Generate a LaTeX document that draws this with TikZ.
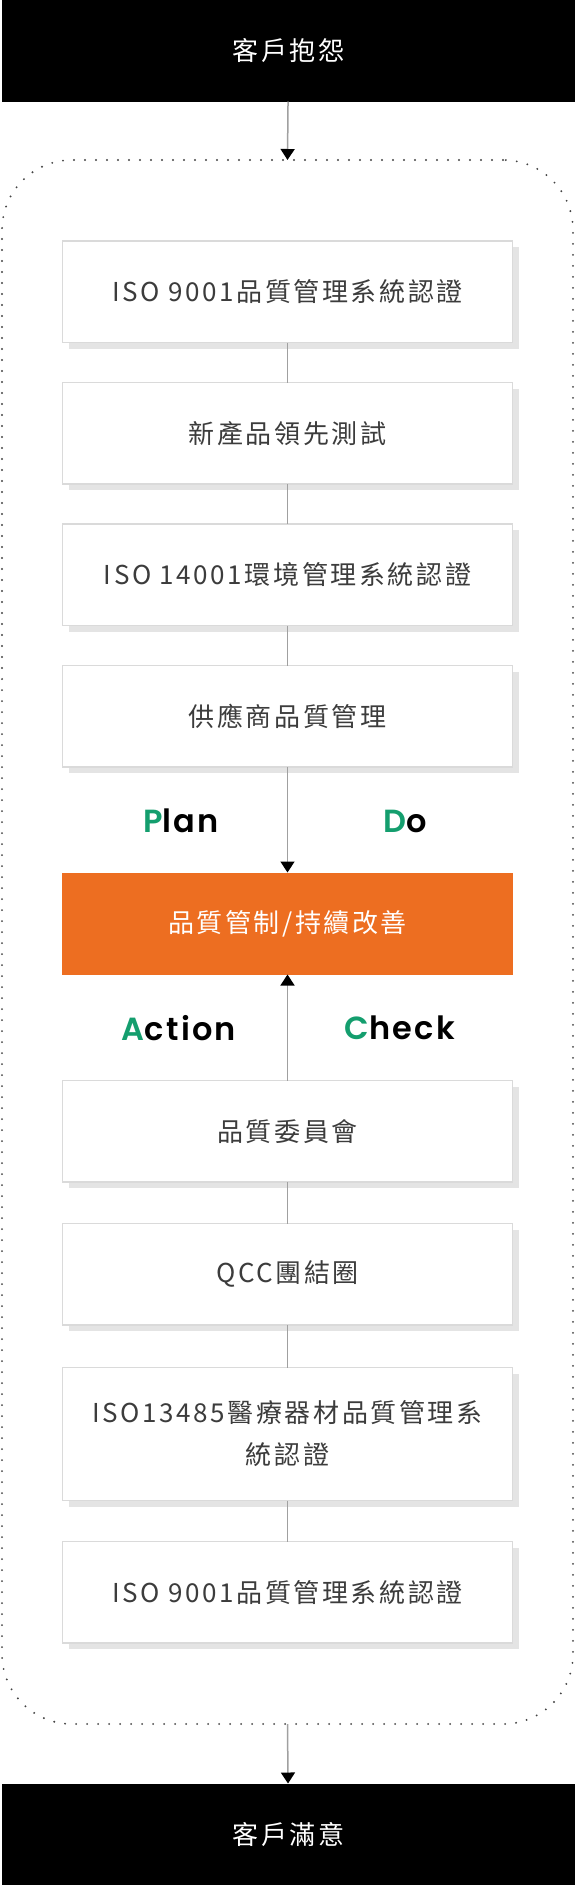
\documentclass[tikz,border=0pt]{standalone}
\usepackage{fontspec}
\setmainfont{Noto Sans CJK TC}[LetterSpace=10]
\newfontfamily\popfont{Poppins}[BoldFont={Poppins SemiBold}, LetterSpace=7]
\usetikzlibrary{arrows.meta,positioning,shadows}
\definecolor{qcorange}{RGB}{237,110,33}
\definecolor{qcgreen}{RGB}{20,158,110}
\definecolor{boxline}{RGB}{218,218,218}
\definecolor{boxshade}{RGB}{228,228,228}
\definecolor{boxtext}{RGB}{60,60,60}
\definecolor{linegray}{RGB}{160,160,160}
\definecolor{dotgray}{RGB}{68,68,68}
\tikzset{
  qcbox/.style={draw=boxline, line width=1.5pt, fill=white, minimum width=450pt, minimum height=101.5pt, inner sep=0pt, outer sep=0pt, align=center, text=boxtext, font=\fontsize{26}{42}\selectfont, drop shadow={shadow xshift=6pt, shadow yshift=-6pt, fill=boxshade, opacity=1}},
  qcend/.style={fill=black, text=white, minimum width=573pt, minimum height=101.5pt, inner sep=0pt, outer sep=0pt, font=\fontsize{26}{42}\selectfont},
  qcmain/.style={fill=qcorange, text=white, minimum width=451pt, minimum height=102pt, inner sep=0pt, outer sep=0pt, font=\fontsize{26}{42}\selectfont},
  qcframe/.style={draw=dotgray, line width=2.1pt, dash pattern=on 0pt off 11pt, line cap=round, rounded corners=70pt, minimum width=571pt, minimum height=1564pt, inner sep=0pt, outer sep=0pt},
  qcline/.style={draw=linegray, line width=1.5pt},
  qcarrow/.style={qcline, -{Triangle[length=11pt,width=14pt,color=black]}},
  pdca/.style={font=\popfont\bfseries\fontsize{32}{32}\selectfont, text=black}
}

\begin{document}
\begin{tikzpicture}[x=1pt, y=1pt, node distance=40pt]
  \useasboundingbox (0,0) rectangle (575,-1885);
  \node[qcend] (start) at (288.5,-50.75) {客戶抱怨};
  \node[qcframe] (frame) at (287.5,-942) {};
  \node[qcbox] (iso1) at (287.5,-291.75) {ISO 9001品質管理系統認證};
  \node[qcbox, below=of iso1] (newp) {新產品領先測試};
  \node[qcbox, below=of newp] (iso2) {ISO 14001環境管理系統認證};
  \node[qcbox, below=of iso2] (supp) {供應商品質管理};
  \node[qcmain, below=105.5pt of supp] (qc) {品質管制/持續改善};
  \node[qcbox, below=106pt of qc] (comm) {品質委員會};
  \node[qcbox, below=41.5pt of comm] (qcc) {QCC團結圈};
  \node[qcbox, below=42.5pt of qcc, minimum height=133pt] (iso3) {ISO13485醫療器材品質管理系\\統認證};
  \node[qcbox, below=41pt of iso3] (iso4) {ISO 9001品質管理系統認證};
  \node[qcend] (done) at (288.5,-1834.25) {客戶滿意};
  \node[pdca] (plan) at (181,-821) {{\color{qcgreen}P}lan};
  \node[pdca] (do) at (405,-821) {{\color{qcgreen}D}o};
  \node[pdca] (act) at (179,-1028) {{\color{qcgreen}A}ction};
  \node[pdca] (chk) at (400,-1028) {{\color{qcgreen}C}heck};
  \draw[qcarrow] (start) -- (frame.north);
  \draw[qcline] (iso1) -- (newp);
  \draw[qcline] (newp) -- (iso2);
  \draw[qcline] (iso2) -- (supp);
  \draw[qcarrow] (supp) -- (qc);
  \draw[qcarrow] (comm) -- (qc);
  \draw[qcline] (comm) -- (qcc);
  \draw[qcline] (qcc) -- (iso3);
  \draw[qcline] (iso3) -- (iso4);
  \draw[qcarrow] (frame.south) -- (done);
\end{tikzpicture}
\end{document}
